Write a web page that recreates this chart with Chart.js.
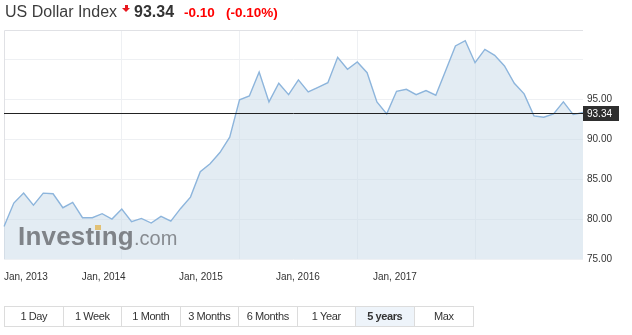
<!DOCTYPE html>
<html>
<head>
<meta charset="utf-8">
<script src="https://cdn.jsdelivr.net/npm/chart.js@4"></script>
<style>
  body { margin: 0; background: #fff; font-family: "Liberation Sans", Arial, sans-serif; }
  #wrap { position: relative; width: 632px; height: 335px; overflow: hidden; }
  #wrap canvas { position: absolute; left: 0; top: 0; }
  .hdr { position: absolute; top: 3px; white-space: nowrap; line-height: 18px; }
  .name { left: 5px; font-size: 16px; color: #3c3c3c; }
  .last { left: 134px; font-size: 16px; font-weight: bold; color: #333; }
  .chg { font-size: 13.5px; font-weight: bold; color: #f00; top: 4px; }
  .arrow { position: absolute; left: 122px; top: 5px; width: 8px; height: 8px; }
  .arrow:before { content: ""; position: absolute; left: 2.5px; top: 0; width: 3px; height: 3px; background: #e8171e; }
  .arrow:after { content: ""; position: absolute; left: 0; top: 3px; border-left: 4px solid transparent; border-right: 4px solid transparent; border-top: 4.5px solid #e8171e; }
  .logo { position: absolute; left: 18px; top: 223px; white-space: nowrap; line-height: 26px; color: #7f8388; }
  .logo b { font-size: 26px; letter-spacing: 0.2px; }
  .logo i { font-style: normal; position: relative; }
  .logo i:after { content: ""; position: absolute; left: 0.5px; top: 4px; width: 6px; height: 5px; background: #e2c175; }
  .logo span { font-size: 20px; color: #878b90; }
  .btns { position: absolute; left: 4px; top: 306px; height: 21px; display: flex; border: 1px solid #dcdcdc; box-sizing: border-box; }
  .btns div { width: 58.5px; height: 19px; line-height: 19px; text-align: center; font-size: 11px; letter-spacing: -0.4px; color: #333; border-right: 1px solid #dcdcdc; box-sizing: border-box; }
  .btns div:last-child { border-right: none; }
  .btns div.on { background: #eef4fa; font-weight: bold; }
</style>
</head>
<body>
<div id="wrap">
  <canvas id="chart" width="632" height="335"></canvas>
  <div class="hdr name">US Dollar Index</div>
  <div class="arrow"></div>
  <div class="hdr last">93.34</div>
  <div class="hdr chg" style="left:184px">-0.10</div>
  <div class="hdr chg" style="left:226px">(-0.10%)</div>
  <div class="logo"><b>Invest<i>i</i>ng</b><span>.com</span></div>
  <div class="btns" id="btns"></div>
</div>
<script>
// monthly closes, Jan 2013 .. Dec 2017
const months = [
  'Jan 2013','Feb 2013','Mar 2013','Apr 2013','May 2013','Jun 2013','Jul 2013','Aug 2013','Sep 2013','Oct 2013','Nov 2013','Dec 2013',
  'Jan 2014','Feb 2014','Mar 2014','Apr 2014','May 2014','Jun 2014','Jul 2014','Aug 2014','Sep 2014','Oct 2014','Nov 2014','Dec 2014',
  'Jan 2015','Feb 2015','Mar 2015','Apr 2015','May 2015','Jun 2015','Jul 2015','Aug 2015','Sep 2015','Oct 2015','Nov 2015','Dec 2015',
  'Jan 2016','Feb 2016','Mar 2016','Apr 2016','May 2016','Jun 2016','Jul 2016','Aug 2016','Sep 2016','Oct 2016','Nov 2016','Dec 2016',
  'Jan 2017','Feb 2017','Mar 2017','Apr 2017','May 2017','Jun 2017','Jul 2017','Aug 2017','Sep 2017','Oct 2017','Nov 2017','Dec 2017'
];
const values = [
  79.08, 82.00, 83.25, 81.75, 83.25, 83.17, 81.42, 82.08, 80.17, 80.17, 80.67, 80.00,
  81.25, 79.67, 80.08, 79.50, 80.33, 79.75, 81.33, 82.75, 85.92, 86.92, 88.33, 90.25,
  94.92, 95.42, 98.42, 94.67, 97.00, 95.58, 97.42, 95.92, 96.50, 97.08, 100.25, 98.75,
  99.67, 98.33, 94.67, 93.17, 96.00, 96.25, 95.58, 96.08, 95.50, 98.58, 101.67, 102.33,
  99.58, 101.25, 100.50, 99.17, 97.00, 95.67, 92.92, 92.75, 93.17, 94.67, 93.08, 93.34
];
const lastPrice = 93.34;

const xLabels = ['Jan, 2013', 'Jan, 2014', 'Jan, 2015', 'Jan, 2016', 'Jan, 2017'];
const xLabelPos = [0, 7.92, 17.83, 27.71, 37.6];   // where the site put its labels (month index)
const yTicks = [75, 80, 85, 90, 95, 100];
const ranges = ['1 Day', '1 Week', '1 Month', '3 Months', '6 Months', '1 Year', '5 years', 'Max'];

document.getElementById('btns').innerHTML =
  ranges.map(r => '<div' + (r === '5 years' ? ' class="on"' : '') + '>' + r + '</div>').join('');

const frame = {
  id: 'frame',
  beforeDatasetsDraw(chart) {
    const { ctx, chartArea: a } = chart;
    ctx.save();
    ctx.strokeStyle = '#e0e1e5';
    ctx.lineWidth = 1;
    ctx.beginPath();
    ctx.moveTo(a.left + 0.5, a.bottom);
    ctx.lineTo(a.left + 0.5, a.top + 0.5);
    ctx.lineTo(a.right, a.top + 0.5);
    ctx.stroke();
    ctx.restore();
  }
};

const priceLine = {
  id: 'priceLine',
  afterDatasetsDraw(chart) {
    const { ctx, chartArea: a, scales } = chart;
    const y = Math.round(scales.y.getPixelForValue(lastPrice)) + 0.5;
    ctx.save();
    ctx.strokeStyle = '#222';
    ctx.lineWidth = 1;
    ctx.beginPath();
    ctx.moveTo(a.left, y);
    ctx.lineTo(a.right, y);
    ctx.stroke();
    ctx.fillStyle = '#2e2e2e';
    ctx.fillRect(a.right, y - 7.5, 36, 15);
    ctx.fillStyle = '#fff';
    ctx.font = '10px "Liberation Sans", Arial, sans-serif';
    ctx.textBaseline = 'middle';
    ctx.fillText(lastPrice.toFixed(2), a.right + 4, y + 0.5);
    ctx.restore();
  }
};

const tickFont = { family: '"Liberation Sans", Arial, sans-serif', size: 10 };
const noSidePad = s => { s.paddingLeft = 0; s.paddingRight = 0; };

new Chart(document.getElementById('chart'), {
  type: 'line',
  data: {
    labels: months,
    datasets: [{
      data: values,
      borderColor: '#8db5dc',
      borderWidth: 1.4,
      backgroundColor: 'rgba(200, 218, 232, 0.5)',
      fill: 'start',
      tension: 0,
      pointRadius: 0
    }]
  },
  options: {
    responsive: false,
    animation: false,
    layout: { padding: { left: 4, top: 30, right: 0, bottom: 0 } },
    plugins: { legend: { display: false }, tooltip: { enabled: false } },
    scales: {
      x: {
        type: 'category',
        offset: false,
        border: { display: false },
        grid: {
          drawTicks: false,
          color: c => (c.index > 0 && c.index % 12 === 0) ? '#eef0f3' : 'transparent'
        },
        ticks: { display: false, autoSkip: false },
        afterFit: s => { s.height = 0; noSidePad(s); }
      },
      xl: {
        type: 'linear',
        position: 'bottom',
        min: 0,
        max: months.length - 1,
        border: { display: false },
        grid: { display: false, drawTicks: false },
        afterBuildTicks: s => { s.ticks = xLabelPos.map(v => ({ value: v })); },
        ticks: {
          align: 'start',
          autoSkip: false,
          maxRotation: 0,
          padding: 12,
          color: '#333',
          font: tickFont,
          callback: (v, i) => xLabels[i]
        },
        afterFit: s => { s.height = 76; noSidePad(s); }
      },
      y: {
        position: 'right',
        min: 75,
        max: 103.67,
        border: { display: false },
        grid: { drawTicks: false, color: '#eef0f3' },
        afterBuildTicks: s => { s.ticks = yTicks.map(v => ({ value: v })); },
        ticks: {
          padding: 4,
          color: '#333',
          font: tickFont,
          callback: v => v >= 100 ? '' : v.toFixed(2)
        },
        afterFit: s => { s.width = 49; }
      }
    }
  },
  plugins: [frame, priceLine]
});
</script>
</body>
</html>
